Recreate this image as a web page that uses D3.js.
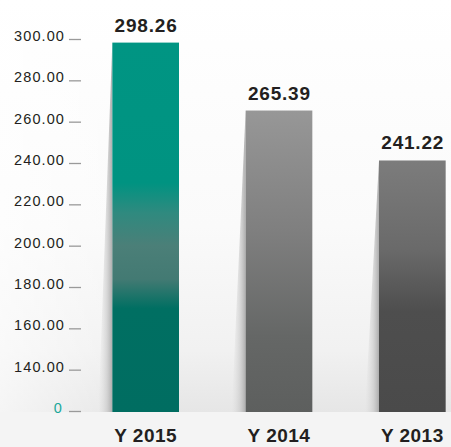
<!DOCTYPE html>
<html><head><meta charset="utf-8">
<script src="https://cdn.jsdelivr.net/npm/d3@7"></script>
<style>html,body{margin:0;padding:0;background:#fff;}svg{display:block;}</style>
</head><body>
<svg id="c" width="451" height="447"></svg>
<script>
const categories = ["Y 2015", "Y 2014", "Y 2013"];
const values = [298.26, 265.39, 241.22];
const valueLabels = ["298.26", "265.39", "241.22"];
const tickValues = [120, 140, 160, 180, 200, 220, 240, 260, 280, 300];
const tickLabels = ["0", "140.00", "160.00", "180.00", "200.00", "220.00", "240.00", "260.00", "280.00", "300.00"];

const svg = d3.select("#c");
const W = 451, H = 447;
const y = d3.scaleLinear().domain([120, 300]).range([411, 39]);
const x = d3.scaleBand().domain(categories).range([79, 479]).paddingInner(0.5).paddingOuter(0.25);
const floorY = 412;

const defs = svg.append("defs");
const bg = defs.append("linearGradient").attr("id", "bg").attr("x1", 0).attr("y1", 0).attr("x2", 0).attr("y2", 1);
[[0, "#ffffff"], [0.55, "#fafafa"], [0.85, "#f1f1f1"], [1, "#e6e6e6"]].forEach(s => bg.append("stop").attr("offset", s[0]).attr("stop-color", s[1]));
const bgh = defs.append("linearGradient").attr("id", "bgh").attr("x1", 0).attr("y1", 0).attr("x2", 1).attr("y2", 0);
[[0, "#ffffff", 0.6], [0.3, "#ffffff", 0], [1, "#ffffff", 0]].forEach(s => bgh.append("stop").attr("offset", s[0]).attr("stop-color", s[1]).attr("stop-opacity", s[2]));

const barGrads = [
  [[0, "#009583"], [0.38, "#009381"], [0.46, "#2f8a7f"], [0.55, "#4b7f78"], [0.64, "#437a73"], [0.72, "#006f62"], [1, "#006d61"]],
  [[0, "#979797"], [0.4, "#7f7f7f"], [0.75, "#656766"], [1, "#5d5f5e"]],
  [[0, "#7c7c7c"], [0.35, "#6a6a6a"], [0.6, "#4e4e4e"], [1, "#4a4a4a"]]
];
barGrads.forEach((stops, i) => {
  const g = defs.append("linearGradient").attr("id", "bar" + i).attr("x1", 0).attr("y1", 0).attr("x2", 0).attr("y2", 1);
  stops.forEach(s => g.append("stop").attr("offset", s[0]).attr("stop-color", s[1]));
});
const sh = defs.append("linearGradient").attr("id", "sh").attr("x1", 0).attr("y1", 0).attr("x2", 1).attr("y2", 0);
[[0, "#d8d8d8", 0], [0.6, "#c4c4c4", 0.6], [1, "#a9a9a9", 0.95]].forEach(s => sh.append("stop").attr("offset", s[0]).attr("stop-color", s[1]).attr("stop-opacity", s[2]));

svg.append("rect").attr("x", 0).attr("y", 0).attr("width", W).attr("height", floorY).attr("fill", "url(#bg)");
svg.append("rect").attr("x", 0).attr("y", 0).attr("width", W).attr("height", floorY).attr("fill", "url(#bgh)");
svg.append("rect").attr("x", 0).attr("y", floorY).attr("width", W).attr("height", H - floorY).attr("fill", "#f4f4f4");

svg.selectAll("path.sh").data(categories).join("path").attr("class", "sh")
  .attr("d", (c, i) => {
    const bx = x(c), top = y(values[i]);
    return `M${bx},${top} L${bx - 14},${floorY} L${bx},${floorY} Z`;
  })
  .attr("fill", "url(#sh)");

svg.selectAll("rect.bar").data(categories).join("rect").attr("class", "bar")
  .attr("x", c => x(c))
  .attr("y", (c, i) => y(values[i]))
  .attr("width", x.bandwidth())
  .attr("height", (c, i) => floorY - y(values[i]))
  .attr("fill", (c, i) => `url(#bar${i})`);

svg.selectAll("text.val").data(categories).join("text").attr("class", "val")
  .attr("x", c => x(c) + x.bandwidth() / 2 + 0.4)
  .attr("y", (c, i) => y(values[i]) - 11)
  .attr("text-anchor", "middle")
  .attr("font-family", "Liberation Sans, Arial, sans-serif")
  .attr("font-weight", "bold").attr("font-size", 19).attr("letter-spacing", 0.8)
  .attr("fill", "#231f20")
  .text((c, i) => valueLabels[i]);

svg.selectAll("text.cat").data(categories).join("text").attr("class", "cat")
  .attr("x", c => x(c) + x.bandwidth() / 2)
  .attr("y", 442)
  .attr("text-anchor", "middle")
  .attr("font-family", "Liberation Sans, Arial, sans-serif")
  .attr("font-weight", "bold").attr("font-size", 19).attr("letter-spacing", 0.5)
  .attr("fill", "#231f20")
  .text(c => c);

const axis = d3.axisLeft(y).tickValues(tickValues).tickFormat((d, i) => tickLabels[i]).tickSize(0).tickPadding(0);
const ag = svg.append("g").call(axis);
ag.select(".domain").remove();
ag.selectAll(".tick line").remove();
ag.selectAll(".tick").each(function (d, i) {
  const t = d3.select(this);
  t.append("line").attr("x1", 69).attr("x2", 81).attr("y1", 0).attr("y2", 0)
    .attr("stroke", "#9a9a9a").attr("stroke-width", 1.3);
  t.select("text")
    .attr("x", i === 0 ? 63 : 65)
    .attr("dy", null).attr("y", 1.5)
    .attr("text-anchor", "end")
    .attr("font-family", "Liberation Sans, Arial, sans-serif")
    .attr("font-size", 14.5).attr("letter-spacing", 1.1)
    .attr("fill", i === 0 ? "#1aa89a" : "#231f20");
});
</script>
</body></html>
